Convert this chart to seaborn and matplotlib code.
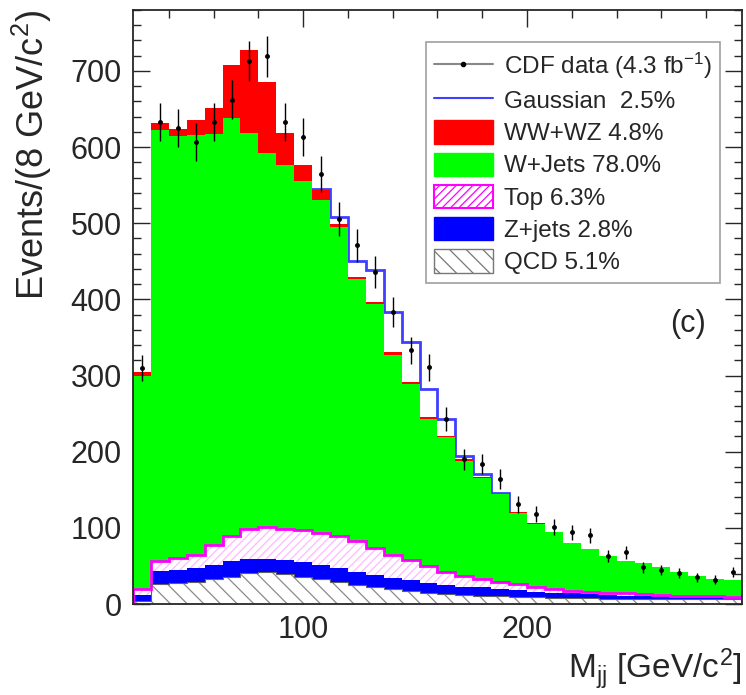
import numpy as np
import pandas as pd
import seaborn as sns
import matplotlib
matplotlib.use("Agg")
import matplotlib.pyplot as plt
from matplotlib.ticker import MultipleLocator
from matplotlib.lines import Line2D
from matplotlib.patches import Patch

# %% data: Mjj in 8 GeV bins from 24 to 296 GeV/c^2
mjj_edges = np.arange(24, 297, 8)
mjj_centers = mjj_edges[:-1] + 4

qcd = [4, 26, 28, 29, 33, 36, 41, 42, 39, 36, 33, 29, 25, 22, 20, 17, 15,
       13, 12, 11, 10, 9, 9, 8, 8, 8, 7, 7, 7, 7, 6, 6, 6, 6]
zjets = [8, 18, 17, 18, 18, 20, 18, 17, 19, 19, 18, 18, 17, 16, 14, 14, 13,
         12, 11, 11, 10, 9, 7, 7, 6, 5, 5, 4, 4, 3, 4, 3, 3, 2]
top = [8, 13, 15, 17, 26, 33, 40, 42, 40, 42, 42, 42, 41, 36, 30, 27, 22,
       17, 14, 11, 9, 8, 6, 5, 3, 3, 3, 3, 2, 2, 1, 1, 1, 1]
wjets = [280, 565, 554, 552, 540, 549, 520, 491, 478, 459, 438, 406, 344, 320,
         263, 231, 193, 177, 151, 133, 115, 94, 83, 74, 63, 56, 48, 42, 41, 36,
         31, 27, 23, 22]
wwwz = [5, 9, 10, 20, 34, 70, 109, 93, 43, 21, 12, 4, 2, 2, 4, 2, 2,
        2, 2, 1, 1, 1, 1, 0, 0, 0, 0, 0, 0, 0, 0, 0, 0, 0]
gauss = [0, 0, 0, 0, 0, 0, 0, 0, 0, 0, 2, 9, 22, 42, 52, 53, 37,
         22, 5, 4, 1, 0, 0, 0, 0, 0, 0, 0, 0, 0, 0, 0, 0, 0]
cdf_data = [310, 633, 625, 607, 633, 662, 713, 719, 633, 613, 565, 506, 471,
            436, 383, 333, 311, 243, 190, 184, 164, 131, 118, 101, 94, 90, 63,
            68, 48, 45, 41, 35, 32, 42]

components = {"WW+WZ": wwwz, "W+Jets": wjets, "Top": top,
              "Z+jets": zjets, "QCD": qcd}
labels = {"WW+WZ": "WW+WZ 4.8%", "W+Jets": "W+Jets 78.0%", "Top": "Top 6.3%",
          "Z+jets": "Z+jets 2.8%", "QCD": "QCD 5.1%"}
# temporary colours so the filled layers can be found again afterwards
palette = {"WW+WZ": "#ff0000", "W+Jets": "#00ff00", "Top": "#ff00ff",
           "Z+jets": "#0000ff", "QCD": "#808080"}

df = pd.concat([pd.DataFrame({"mjj": mjj_centers, "events": v, "component": k})
                for k, v in components.items()])

# %% style
sns.set_style("ticks")
plt.rcParams["font.family"] = ["Liberation Sans", "DejaVu Sans"]
plt.rcParams["mathtext.fontset"] = "custom"
plt.rcParams["mathtext.rm"] = "Liberation Sans"
plt.rcParams["mathtext.it"] = "Liberation Sans:italic"
plt.rcParams["hatch.linewidth"] = 0.9

fig = plt.figure(figsize=(7.46, 6.95), dpi=100)
ax = fig.add_axes([0.1783, 0.1309, 0.8163, 0.8547])

# %% stacked backgrounds
sns.histplot(data=df, x="mjj", weights="events", hue="component",
             hue_order=list(components), bins=[float(e) for e in mjj_edges],
             multiple="stack", element="step", fill=True, palette=palette,
             alpha=1, linewidth=0, legend=False, ax=ax)

for coll in ax.collections:
    fc = matplotlib.colors.to_hex(coll.get_facecolor()[0])
    coll.set_linewidth(0)
    coll.set_antialiased(False)
    if fc == "#ff00ff":
        coll.set_facecolor("white")
        coll.set_edgecolor("#ffb8ff")
        coll.set_hatch("////")
    elif fc == "#808080":
        coll.set_facecolor("white")
        coll.set_edgecolor("#8a8a8a")
        coll.set_hatch("\\\\")
    coll.set_zorder(1)

stack_top = np.sum([wwwz, wjets, top, zjets, qcd], axis=0)
top_cum = np.sum([top, zjets, qcd], axis=0)
qcd_arr = np.array(qcd)
ax.stairs(top_cum, mjj_edges, color="#ff00ff", lw=2, zorder=1.5)
ax.stairs(qcd_arr, mjj_edges, color="#606060", lw=0.8, zorder=1.5)

# gaussian drawn under the stack, only shows where it sticks out
gauss_arr = np.array(gauss)
gauss_line = np.where(gauss_arr > 0, stack_top + gauss_arr, 0)
ax.stairs(gauss_line, mjj_edges, color="#3f3fff", lw=2, zorder=0.5)

# %% data points
ax.errorbar(mjj_centers, cdf_data, yerr=np.sqrt(cdf_data), fmt="o", ms=2.5,
            color="k", elinewidth=1, capsize=0, zorder=3)

# %% axes
ax.set_xlim(24, 296)
ax.set_ylim(0, 780)
ax.xaxis.set_major_locator(MultipleLocator(100))
ax.xaxis.set_minor_locator(MultipleLocator(20))
ax.yaxis.set_major_locator(MultipleLocator(100))
ax.yaxis.set_minor_locator(MultipleLocator(20))
ax.tick_params(which="both", direction="in", top=True, right=True,
               width=1, labelsize=22)
ax.tick_params(which="major", length=12)
ax.tick_params(which="minor", length=6)
ax.tick_params(axis="y", pad=8)
ax.tick_params(axis="x", pad=8)
for sp in ax.spines.values():
    sp.set_linewidth(1.3)

ax.set_xlabel("M$_{\\mathrm{jj}}$ [GeV/c$^2$]", fontsize=24, loc="right",
              labelpad=1)
ax.set_ylabel("Events/(8 GeV/c$^2$)", fontsize=26, loc="top", labelpad=12)
ax.text(272, 368, "(c)", fontsize=22, ha="center", va="center")

handles = [
    Line2D([], [], color="#888888", lw=1.5, marker="o", ms=3,
           mfc="k", mec="k"),
    Line2D([], [], color="#3f3fff", lw=1.5),
    Patch(facecolor="#ff0000", edgecolor="#ff0000"),
    Patch(facecolor="#00ff00", edgecolor="#00ff00"),
    Patch(facecolor="white", edgecolor="#ff00ff", hatch="////", lw=1.5),
    Patch(facecolor="#0000ff", edgecolor="#0000ff"),
    Patch(facecolor="white", edgecolor="#777777", hatch="\\\\", lw=1),
]
leg_labels = ["CDF data (4.3 fb$^{-1}$)", "Gaussian  2.5%"] + \
    [labels[k] for k in components]
leg = ax.legend(handles, leg_labels, loc="upper right",
                bbox_to_anchor=(0.964, 0.946), borderaxespad=0,
                fontsize=17.5, frameon=True, fancybox=False,
                handlelength=2.4, handleheight=1.1, handletextpad=0.45,
                labelspacing=0.3, borderpad=0.35)
leg.get_frame().set_edgecolor("#888888")
leg.get_frame().set_linewidth(1.2)
leg.set_zorder(5)

fig.savefig("out.png", dpi=100)
